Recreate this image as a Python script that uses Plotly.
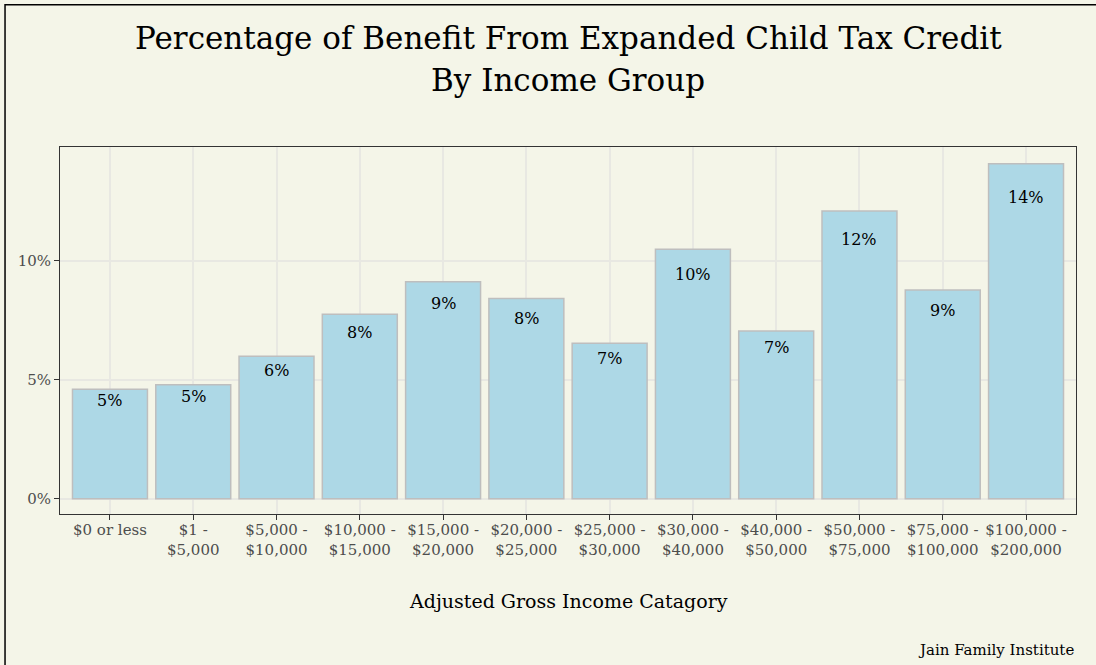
import plotly.graph_objects as go

categories = ["$0 or less", "$1 -<br>$5,000", "$5,000 -<br>$10,000", "$10,000 -<br>$15,000",
              "$15,000 -<br>$20,000", "$20,000 -<br>$25,000", "$25,000 -<br>$30,000",
              "$30,000 -<br>$40,000", "$40,000 -<br>$50,000", "$50,000 -<br>$75,000",
              "$75,000 -<br>$100,000", "$100,000 -<br>$200,000"]
values = [4.6, 4.79, 5.99, 7.76, 9.12, 8.42, 6.54, 10.49, 7.05, 12.10, 8.78, 14.09]
labels = ["5%", "5%", "6%", "8%", "9%", "8%", "7%", "10%", "7%", "12%", "9%", "14%"]
y_ticks = [0, 5, 10]
y_tick_text = ["0%", "5%", "10%"]
label_pos_factor = 0.9  # labels sit at 90% of bar height

BG = "#f4f5e8"
FONT = "DejaVu Serif"
xs = list(range(len(categories)))

fig = go.Figure(go.Bar(
    x=xs, y=values,
    marker=dict(color="#add8e6", line=dict(color="#bebebe", width=1.5)),
    width=0.9, hoverinfo="skip",
))

annotations = [dict(x=x, y=v * label_pos_factor, text=t, xref="x", yref="y",
                    yanchor="middle", showarrow=False,
                    font=dict(family=FONT, size=16, color="black"))
               for x, v, t in zip(xs, values, labels)]
annotations += [
    dict(text="Percentage of Benefit From Expanded Child Tax Credit", xref="paper", yref="paper",
         x=0.5, y=1.2966, xanchor="center", yanchor="middle", showarrow=False,
         font=dict(family=FONT, size=31, color="black")),
    dict(text="By Income Group", xref="paper", yref="paper",
         x=0.5, y=1.1826, xanchor="center", yanchor="middle", showarrow=False,
         font=dict(family=FONT, size=31, color="black")),
    dict(text="Adjusted Gross Income Catagory", xref="paper", yref="paper",
         x=0.5, y=-0.2371, xanchor="center", yanchor="middle", showarrow=False,
         font=dict(family=FONT, size=19, color="black")),
    dict(text="Jain Family Institute", xref="paper", yref="paper",
         x=1.0, y=-0.3706, xanchor="right", yanchor="middle", showarrow=False,
         font=dict(family=FONT, size=15, color="black")),
]

fig.update_layout(
    width=1096, height=665,
    paper_bgcolor=BG, plot_bgcolor=BG,
    margin=dict(l=60, r=20, t=147, b=151),
    font=dict(family=FONT, color="#4d4d4d"),
    showlegend=False,
    xaxis=dict(range=[-0.6, 11.6], tickvals=xs, ticktext=categories,
               showgrid=True, gridcolor="#e8e8e2", gridwidth=1.5,
               showline=True, linecolor="#333333", linewidth=1, mirror=True,
               ticks="outside", ticklen=5, tickcolor="#333333",
               ticklabelstandoff=-3,
               tickfont=dict(family=FONT, size=15, color="#4d4d4d"),
               zeroline=False),
    yaxis=dict(range=[-0.64, 14.79], tickvals=y_ticks, ticktext=y_tick_text,
               showgrid=True, gridcolor="#e8e8e2", gridwidth=1.5,
               showline=True, linecolor="#333333", linewidth=1, mirror=True,
               ticks="outside", ticklen=5, tickcolor="#333333",
               tickfont=dict(family=FONT, size=15, color="#4d4d4d"),
               zeroline=False),
    annotations=annotations,
    shapes=[dict(type="rect", xref="paper", yref="paper",
                 x0=-0.0541, x1=1.03, y0=-0.45, y1=1.3879,
                 line=dict(color="black", width=1.5), fillcolor="rgba(0,0,0,0)")],
)

fig.write_html("out.html", config={"displayModeBar": False},
               post_script="document.body.style.margin='0';")
